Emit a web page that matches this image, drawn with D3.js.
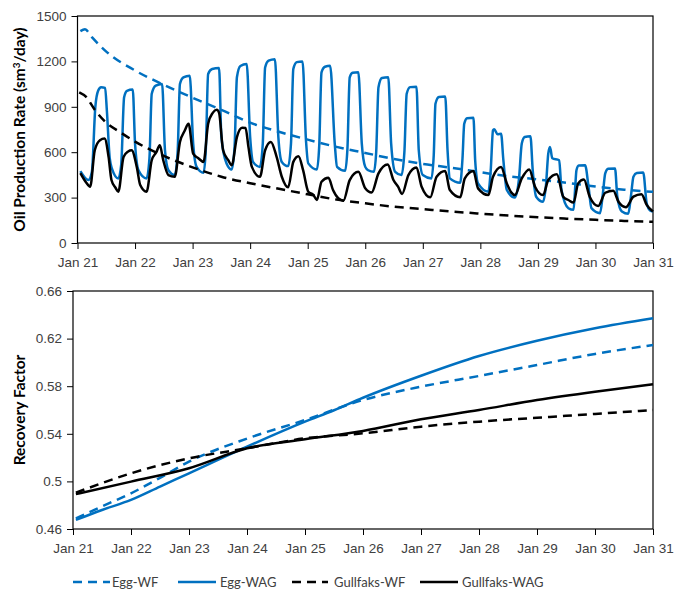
<!DOCTYPE html>
<html>
<head>
<meta charset="utf-8">
<script src="https://cdn.jsdelivr.net/npm/d3@7"></script>
<style>
  html, body { margin: 0; padding: 0; background: #fff; }
  svg { display: block; font-family: Lato, "Open Sans", sans-serif; }
  .tick text { fill: #404040; font-size: 13.5px; }
  .axis-title { fill: #000; font-size: 15.5px; font-weight: bold; }
  .legend text { fill: #404040; font-size: 13px; }
</style>
</head>
<body>
<svg id="chart" width="674" height="591"></svg>
<script>
// Time is expressed in years after January 2021.
const yearLabels = ["Jan 21", "Jan 22", "Jan 23", "Jan 24", "Jan 25", "Jan 26",
                    "Jan 27", "Jan 28", "Jan 29", "Jan 30", "Jan 31"];
const rateTicks = [0, 300, 600, 900, 1200, 1500];
const rfTicks = [0.46, 0.5, 0.54, 0.58, 0.62, 0.66];
const seriesNames = ["Egg-WF", "Egg-WAG", "Gullfaks-WF", "Gullfaks-WAG"];

// Oil production rate, sm3/day
const eggWFRate = [
  [0.05,1400],[0.13,1412],[0.25,1360],[0.5,1265],[1,1140],[1.5,1045],[2,960],[2.5,880],
  [3,795],[3.5,735],[4,683],[4.5,635],[5,595],[5.5,555],[6,523],[6.5,497],[7,468],
  [7.5,440],[8,420],[8.5,398],[9,373],[9.5,352],[10,338]
];
const eggWAGRate = [
  [0.05,475],[0.19,416],[0.25,470],[0.31,900],[0.36,1007],[0.41,1029],[0.48,1025],[0.51,876],[0.56,560],[0.60,490],[0.71,427],
  [0.76,520],[0.81,963],[0.86,1005],[0.96,1014],[1.00,657],[1.06,481],[1.20,427],
  [1.25,560],[1.29,986],[1.36,1040],[1.47,1051],[1.52,613],[1.58,481],[1.69,449],
  [1.74,600],[1.78,1051],[1.84,1095],[1.95,1106],[2.01,657],[2.07,503],[2.19,464],
  [2.23,620],[2.27,1117],[2.34,1150],[2.46,1156],[2.50,700],[2.59,526],[2.68,486],
  [2.73,640],[2.77,1095],[2.83,1170],[2.94,1183],[3.00,700],[3.05,536],[3.17,503],
  [3.22,660],[3.26,1160],[3.32,1205],[3.43,1215],[3.49,700],[3.55,536],[3.66,508],
  [3.71,660],[3.75,1150],[3.81,1195],[3.91,1200],[3.97,679],[4.01,526],[4.16,486],
  [4.20,640],[4.24,1128],[4.30,1165],[4.39,1171],[4.47,657],[4.51,503],[4.65,477],
  [4.69,620],[4.73,1095],[4.78,1125],[4.88,1128],[4.94,657],[5.00,503],[5.05,481],[5.15,470],
  [5.19,600],[5.23,1029],[5.29,1090],[5.40,1095],[5.45,657],[5.52,470],[5.63,449],
  [5.68,600],[5.72,986],[5.78,1030],[5.89,1033],[5.93,613],[6.00,449],[6.15,427],
  [6.19,580],[6.22,920],[6.28,965],[6.39,968],[6.43,613],[6.47,427],[6.65,398],
  [6.69,560],[6.72,788],[6.77,825],[6.88,828],[6.91,547],[6.96,394],[7.14,339],
  [7.18,480],[7.22,744],[7.24,752],[7.30,718],[7.36,722],[7.40,547],[7.46,350],[7.60,300],
  [7.67,420],[7.72,657],[7.77,700],[7.87,705],[7.91,481],[7.97,306],[8.09,273],
  [8.14,380],[8.18,591],[8.21,635],[8.25,560],[8.37,547],[8.41,350],[8.53,230],[8.62,219],
  [8.65,380],[8.67,481],[8.71,512],[8.82,514],[8.88,372],[8.93,230],[9.08,197],
  [9.13,330],[9.17,460],[9.22,490],[9.34,493],[9.38,306],[9.46,208],[9.57,193],
  [9.62,320],[9.66,438],[9.72,462],[9.83,466],[9.89,263],[9.95,215],[10.0,208]
];
const gullfaksWFRate = [
  [0.03,995],[0.15,965],[0.3,880],[0.5,795],[0.75,730],[1,670],[1.5,575],[2,500],
  [2.5,438],[3,395],[3.5,358],[4,322],[4.5,287],[5,262],[5.5,240],[6,224],[6.5,208],
  [7,194],[7.5,181],[8,170],[8.5,161],[9,153],[9.5,146],[10,140]
];
const gullfaksWAGRate = [
  [0.05,462],[0.15,400],[0.22,372],[0.30,613],[0.39,679],[0.47,690],[0.54,569],[0.59,416],[0.66,365],[0.71,339],
  [0.80,569],[0.88,605],[0.94,613],[1.03,503],[1.09,383],[1.20,339],
  [1.29,547],[1.37,600],[1.43,646],[1.49,547],[1.58,449],[1.69,438],
  [1.78,668],[1.86,740],[1.93,788],[2.01,591],[2.10,560],[2.19,536],
  [2.27,788],[2.35,860],[2.42,880],[2.46,860],[2.53,613],[2.62,547],[2.68,514],
  [2.77,700],[2.86,762],[2.92,760],[2.97,635],[3.03,503],[3.17,438],
  [3.26,613],[3.36,668],[3.46,569],[3.55,438],[3.66,368],
  [3.75,536],[3.84,574],[3.92,481],[4.01,339],[4.10,317],[4.16,284],
  [4.24,405],[4.36,431],[4.44,350],[4.53,296],[4.62,280],
  [4.73,416],[4.88,470],[5.00,361],[5.11,333],
  [5.23,460],[5.39,519],[5.49,416],[5.57,372],[5.64,324],
  [5.75,449],[5.89,499],[5.98,372],[6.13,302],
  [6.24,438],[6.39,475],[6.47,350],[6.65,302],
  [6.73,427],[6.88,475],[6.96,361],[7.14,317],
  [7.22,438],[7.36,503],[7.46,394],[7.54,333],[7.60,317],
  [7.72,427],[7.85,486],[7.95,372],[8.09,317],
  [8.18,416],[8.33,455],[8.44,306],[8.53,284],[8.62,267],
  [8.70,394],[8.80,420],[8.90,306],[9.05,245],
  [9.17,332],[9.31,346],[9.40,273],[9.53,237],
  [9.66,306],[9.80,322],[9.89,252],[10.0,208]
];

// Recovery factor
const eggWFRecovery = [
  [0.05,0.469],[0.5,0.479],[1,0.490],[1.5,0.503],[2,0.5166],[3,0.536],[4,0.5516],[5,0.5684],
  [6,0.5796],[7,0.5886],[8,0.5978],[9,0.6071],[10,0.6146]
];
const eggWAGRecovery = [
  [0.05,0.4676],[0.5,0.476],[1,0.4844],[1.5,0.4956],[2,0.5068],[3,0.5292],[4,0.5502],
  [4.5,0.5598],[5,0.5703],[6,0.5888],[7,0.6054],[8,0.6182],[9,0.6287],[10,0.6371]
];
const gullfaksWFRecovery = [
  [0.05,0.4905],[1,0.5068],[2,0.5194],[3,0.5278],[4,0.5362],[5,0.5404],[6,0.546],
  [7,0.5502],[8,0.5535],[9,0.5567],[10,0.56]
];
const gullfaksWAGRecovery = [
  [0.05,0.4893],[1,0.4998],[2,0.511],[3,0.5278],[4,0.5354],[5,0.5424],[6,0.5522],
  [7,0.56],[8,0.5684],[9,0.5754],[10,0.5816]
];

const blue = "#0070C0";
const black = "#000000";
const styles = [
  { color: blue,  dash: "9,6" },
  { color: blue,  dash: null },
  { color: black, dash: "9,6" },
  { color: black, dash: null }
];

const svg = d3.select("#chart");
svg.append("rect").attr("width", 674).attr("height", 591).attr("fill", "#fff");

function panel(box, yDomain, yTicks, yFormat, title, series) {
  const x = d3.scaleLinear().domain([0, 10]).range([box.left, box.right]);
  const y = d3.scaleLinear().domain(yDomain).range([box.bottom, box.top]);

  const g = svg.append("g");

  const xAxis = d3.axisBottom(x)
    .tickValues(d3.range(0, 11))
    .tickFormat(i => yearLabels[i])
    .tickSize(6).tickPadding(8).tickSizeOuter(0);
  g.append("g").attr("transform", `translate(0,${box.bottom})`).call(xAxis)
    .call(s => s.select(".domain").remove());

  const yAxis = d3.axisLeft(y)
    .tickValues(yTicks)
    .tickFormat(yFormat)
    .tickSize(6).tickPadding(5).tickSizeOuter(0);
  g.append("g").attr("transform", `translate(${box.left},0)`).call(yAxis)
    .call(s => s.select(".domain").remove());

  g.selectAll(".tick line").attr("stroke", "#000");

  // plot frame
  g.append("rect")
    .attr("x", box.left).attr("y", box.top)
    .attr("width", box.right - box.left).attr("height", box.bottom - box.top)
    .attr("fill", "none").attr("stroke", "#000").attr("stroke-width", 1.2);

  const line = d3.line()
    .x(d => x(d[0])).y(d => y(d[1]))
    .curve(d3.curveMonotoneX);

  series.forEach((data, i) => {
    g.append("path")
      .datum(data)
      .attr("d", line)
      .attr("fill", "none")
      .attr("stroke", styles[i].color)
      .attr("stroke-width", 2.5)
      .attr("stroke-dasharray", styles[i].dash)
      .attr("stroke-linejoin", "round");
  });

  const cy = (box.top + box.bottom) / 2;
  g.append("text")
    .attr("class", "axis-title")
    .attr("transform", `translate(25,${cy}) rotate(-90)`)
    .attr("text-anchor", "middle")
    .html(title);
}

panel({ left: 77.5, right: 653, top: 16, bottom: 243 },
      [0, 1500], rateTicks, d3.format("d"),
      'Oil Production Rate (sm<tspan dy="-5" font-size="10px">3</tspan><tspan dy="5">/day)</tspan>',
      [eggWFRate, eggWAGRate, gullfaksWFRate, gullfaksWAGRate]);

panel({ left: 73, right: 653, top: 291, bottom: 529 },
      [0.46, 0.66], rfTicks, d => String(+d.toFixed(2)),
      "Recovery Factor",
      [eggWFRecovery, eggWAGRecovery, gullfaksWFRecovery, gullfaksWAGRecovery]);

// legend
const legendItems = [
  { x1: 73,  x2: 110, tx: 112 },
  { x1: 178, x2: 216, tx: 220 },
  { x1: 292, x2: 328, tx: 334 },
  { x1: 420, x2: 458, tx: 462 }
];
const legend = svg.append("g").attr("class", "legend");
legendItems.forEach((it, i) => {
  legend.append("line")
    .attr("x1", it.x1).attr("x2", it.x2).attr("y1", 582).attr("y2", 582)
    .attr("stroke", styles[i].color).attr("stroke-width", 2.5)
    .attr("stroke-dasharray", styles[i].dash);
  legend.append("text")
    .attr("x", it.tx).attr("y", 587)
    .text(seriesNames[i]);
});
</script>
</body>
</html>
